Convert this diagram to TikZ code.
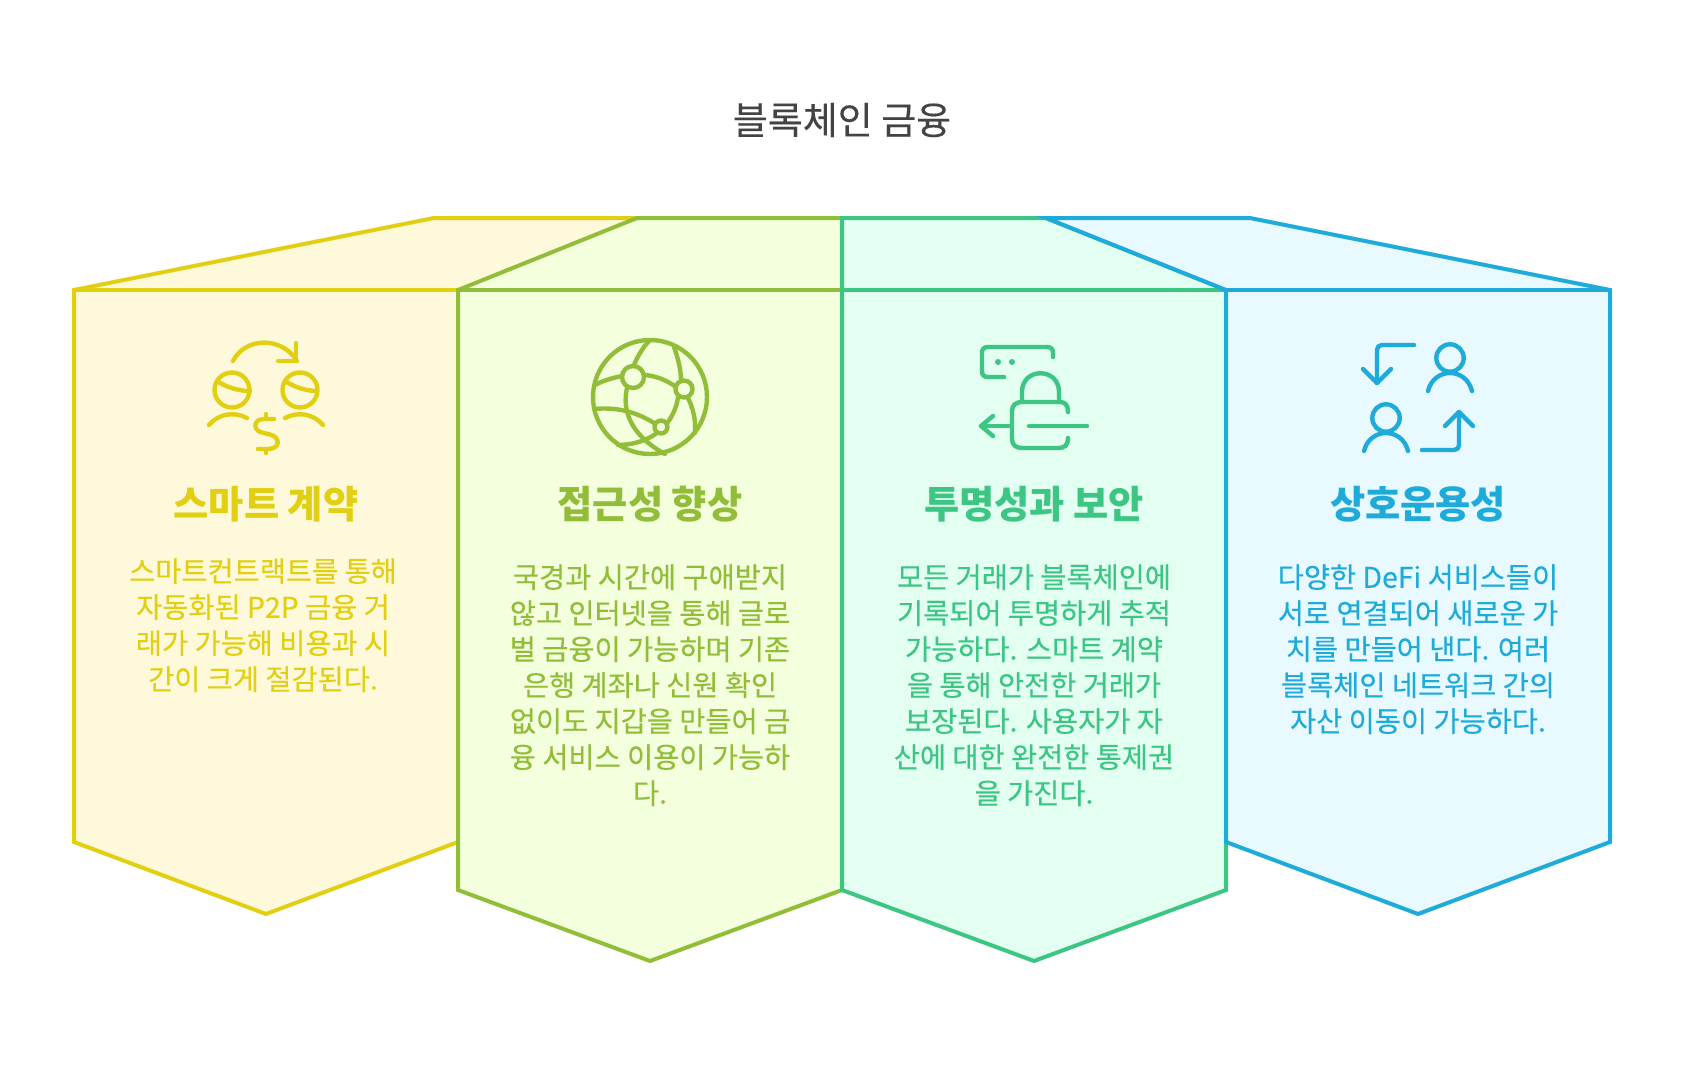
\documentclass[tikz,border=0pt]{standalone}
\usepackage{fontspec}
\setmainfont{Noto Sans CJK KR}
\newfontfamily\medf[FakeBold=0.25]{Noto Sans CJK KR}
\definecolor{cya}{HTML}{E2CF12}\definecolor{fya}{HTML}{FFF9DB}
\definecolor{cgr}{HTML}{92BD39}\definecolor{fgr}{HTML}{F3FFDD}
\definecolor{cte}{HTML}{3CC583}\definecolor{fte}{HTML}{E2FFF1}
\definecolor{cbl}{HTML}{1EABDA}\definecolor{fbl}{HTML}{E8F9FF}
\definecolor{ctitle}{HTML}{434343}
\tikzset{
 x=0.75pt,y=-0.75pt,
 panel/.style={line width=3pt,line join=miter},
 ico/.style={line width=3.3pt,line cap=round,line join=round},
 head/.style={font=\fontsize{28.7}{34}\selectfont\bfseries,anchor=center,inner sep=0},
 body/.style={font=\medf\fontsize{21.3}{27}\selectfont,align=center,anchor=north,inner sep=0},
}
\begin{document}
\begin{tikzpicture}
\useasboundingbox (0,0) rectangle (1684,1085);
\fill[white] (0,0) rectangle (1684,1085);
\node[font=\medf\fontsize{28.5}{34}\selectfont,text=ctitle,inner sep=0] (title) at (842,120) {블록체인 금융};
% panels
\draw[panel,draw=cya,fill=fya] (74,290) -- (434,218) -- (842,218) -- (842,842) -- (458,842) -- (266,914) -- (74,842) -- cycle;
\draw[panel,draw=cya] (74,290) -- (458,290);
\draw[panel,draw=cgr,fill=fgr] (458,290) -- (637,218) -- (842,218) -- (842,890) -- (650,961) -- (458,890) -- cycle;
\draw[panel,draw=cgr] (458,290) -- (842,290);
\draw[panel,draw=cte,fill=fte] (842,218) -- (1046,218) -- (1226,290) -- (1226,890) -- (1034,961) -- (842,890) -- cycle;
\draw[panel,draw=cte] (842,290) -- (1226,290);
\draw[panel,draw=cbl,fill=fbl] (1046,218) -- (1250,218) -- (1610,290) -- (1610,842) -- (1418,914) -- (1226,842) -- (1226,290) -- cycle;
\draw[panel,draw=cbl] (1226,290) -- (1610,290);
% icon 1
\begin{scope}[ico,draw=cya]
\draw (233,361) .. controls (245,337) and (282,336) .. (297,361);
\draw (296,343) -- (296,361) -- (278,361);
\draw (232,390) circle[radius=17.5];
\draw (300,390) circle[radius=17.5];
\draw (217,381) .. controls (226,387) and (238,391) .. (250,391);
\draw (285,381) .. controls (294,387) and (306,391) .. (317,391);
\draw (209,425) .. controls (218,414) and (234,411) .. (247,418);
\draw (285,418) .. controls (298,411) and (314,414) .. (323,425);
\draw (266,414) -- (266,419);
\draw (266,449) -- (266,453);
\draw (274,419) -- (264,419) .. controls (252,419) and (253,432) .. (264,433) -- (268,434) .. controls (281,436) and (281,449) .. (268,449) -- (258,449);
\end{scope}
% icon 2
\begin{scope}[ico,draw=cgr]
\draw (650,397) circle[radius=57];
\draw (633,377) circle[radius=11];
\draw (684,389) circle[radius=8.5];
\draw (661,427) circle[radius=6.5];
\draw (634,365) .. controls (638,355) and (644,346) .. (650,340);
\draw (622,376) .. controls (612,378) and (602,381) .. (595,385);
\draw (645,375) .. controls (657,376) and (668,381) .. (676,387);
\draw (627,388) .. controls (622,410) and (630,435) .. (665,454);
\draw (674,347) .. controls (678,358) and (681,370) .. (681,380);
\draw (678,397) .. controls (677,406) and (673,415) .. (668,422);
\draw (688,398) .. controls (693,408) and (696,420) .. (695,433);
\draw (594,409) .. controls (615,407) and (635,411) .. (654,423);
\draw (657,433) .. controls (646,441) and (632,445) .. (618,445);
\end{scope}
% icon 3
\begin{scope}[ico,draw=cte]
\draw (1053,357) -- (1053,353) .. controls (1053,349) and (1051,347) .. (1047,347) -- (988,347) .. controls (984,347) and (982,349) .. (982,353) -- (982,371) .. controls (982,375) and (984,377) .. (988,377) -- (1004,377);
\fill[cte] (998,362) circle[radius=3];
\fill[cte] (1012,362) circle[radius=3];
\draw (1022,401) -- (1022,392) .. controls (1022,367) and (1059,367) .. (1059,392) -- (1059,401);
\draw (1068,412) .. controls (1068,405) and (1065,402) .. (1060,402) -- (1022,402) .. controls (1016,402) and (1012,405) .. (1012,411) -- (1012,439) .. controls (1012,445) and (1016,448) .. (1022,448) -- (1058,448) .. controls (1065,448) and (1068,445) .. (1068,438);
\draw (1087,426) -- (1029,426);
\draw (1012,426) -- (981,426);
\draw (993,416) -- (981,426) -- (993,436);
\end{scope}
% icon 4
\begin{scope}[ico,draw=cbl]
\draw (1414,345) -- (1382,345) .. controls (1379,345) and (1377,347) .. (1377,350) -- (1377,383);
\draw (1363,369) -- (1377,383) -- (1391,369);
\draw (1450,358) circle[radius=13.7];
\draw (1428,391) .. controls (1434,367) and (1466,367) .. (1472,391);
\draw (1386,418) circle[radius=13.7];
\draw (1364,451) .. controls (1370,427) and (1402,427) .. (1408,451);
\draw (1422,450) -- (1454,450) .. controls (1457,450) and (1459,448) .. (1459,445) -- (1459,412);
\draw (1445,426) -- (1459,412) -- (1473,426);
\end{scope}
% headings
\node[head,text=cya] (h1) at (266,504) {스마트 계약};
\node[head,text=cgr] (h2) at (650,504) {접근성 향상};
\node[head,text=cte] (h3) at (1034,504) {투명성과 보안};
\node[head,text=cbl] (h4) at (1418,504) {상호운용성};
% bodies
\node[body,text=cya] (b1) at (263,558) {스마트컨트랙트를 통해\\자동화된 P2P 금융 거\\래가 가능해 비용과 시\\간이 크게 절감된다.};
\node[body,text=cgr] (b2) at (650,564) {국경과 시간에 구애받지\\않고 인터넷을 통해 글로\\벌 금융이 가능하며 기존\\은행 계좌나 신원 확인\\없이도 지갑을 만들어 금\\융 서비스 이용이 가능하\\다.};
\node[body,text=cte] (b3) at (1034,564) {모든 거래가 블록체인에\\기록되어 투명하게 추적\\가능하다. 스마트 계약\\을 통해 안전한 거래가\\보장된다. 사용자가 자\\산에 대한 완전한 통제권\\을 가진다.};
\node[body,text=cbl] (b4) at (1418,564) {다양한 DeFi 서비스들이\\서로 연결되어 새로운 가\\치를 만들어 낸다. 여러\\블록체인 네트워크 간의\\자산 이동이 가능하다.};
\end{tikzpicture}
\end{document}
